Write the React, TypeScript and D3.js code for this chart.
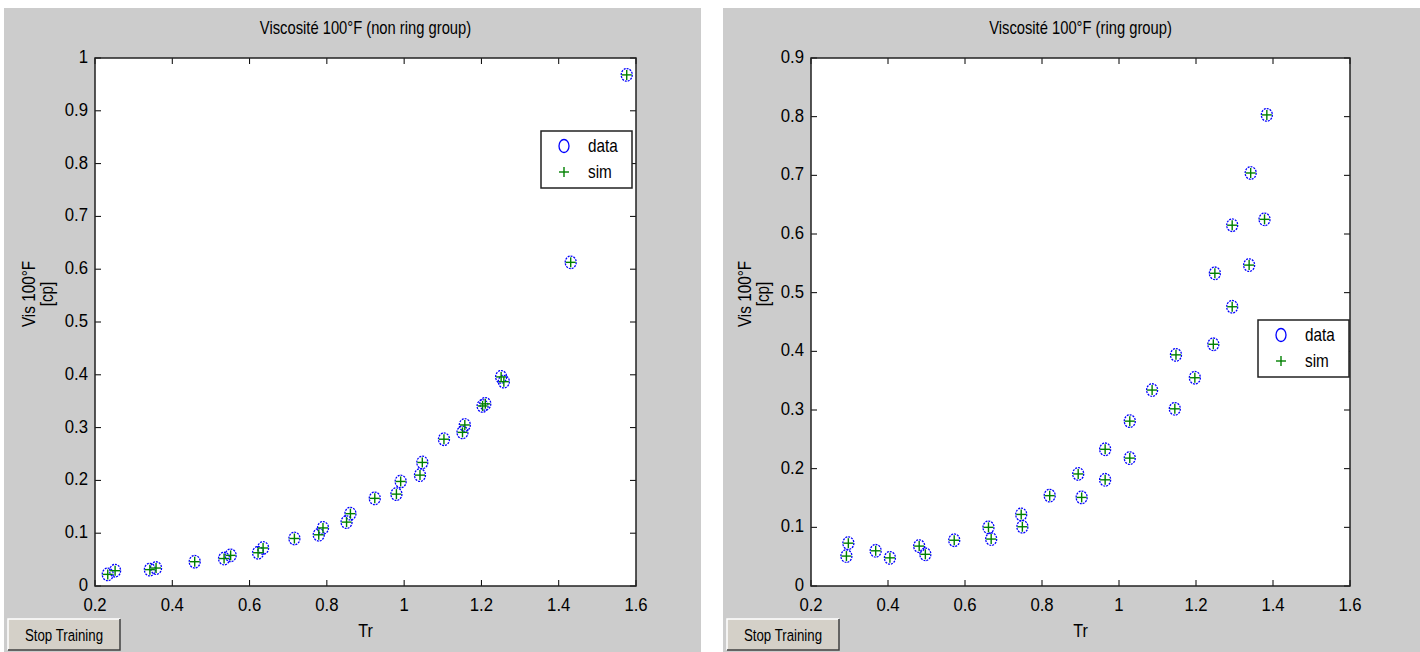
import React from "react";
import * as d3 from "d3";

// non ring group (left)
const leftTr = [0.233, 0.252, 0.342, 0.358, 0.458, 0.534, 0.551, 0.622, 0.635, 0.716, 0.779, 0.79, 0.851, 0.861, 0.924, 0.98, 0.991, 1.041, 1.047, 1.103, 1.151, 1.157, 1.203, 1.21, 1.251, 1.258, 1.431, 1.576];
const leftData = [0.022, 0.029, 0.031, 0.034, 0.046, 0.052, 0.058, 0.063, 0.072, 0.09, 0.097, 0.11, 0.121, 0.137, 0.166, 0.174, 0.198, 0.21, 0.234, 0.278, 0.291, 0.305, 0.341, 0.345, 0.396, 0.387, 0.613, 0.968];
const leftSim = [0.022, 0.029, 0.031, 0.034, 0.046, 0.052, 0.058, 0.063, 0.072, 0.09, 0.097, 0.11, 0.121, 0.137, 0.166, 0.174, 0.198, 0.21, 0.234, 0.278, 0.291, 0.305, 0.341, 0.345, 0.396, 0.387, 0.613, 0.968];

// ring group (right)
const rightTr = [0.292, 0.297, 0.368, 0.405, 0.481, 0.497, 0.572, 0.661, 0.668, 0.746, 0.749, 0.82, 0.894, 0.903, 0.964, 0.964, 1.028, 1.028, 1.086, 1.145, 1.148, 1.197, 1.245, 1.249, 1.294, 1.294, 1.338, 1.342, 1.378, 1.384];
const rightData = [0.051, 0.073, 0.06, 0.048, 0.068, 0.054, 0.078, 0.1, 0.08, 0.122, 0.101, 0.154, 0.191, 0.151, 0.233, 0.181, 0.281, 0.218, 0.334, 0.302, 0.394, 0.355, 0.412, 0.533, 0.476, 0.615, 0.547, 0.704, 0.625, 0.803];
const rightSim = [0.051, 0.073, 0.06, 0.048, 0.068, 0.054, 0.078, 0.1, 0.08, 0.122, 0.101, 0.154, 0.191, 0.151, 0.233, 0.181, 0.281, 0.218, 0.334, 0.302, 0.394, 0.355, 0.412, 0.533, 0.476, 0.615, 0.547, 0.704, 0.625, 0.803];

const xTicks = [0.2, 0.4, 0.6, 0.8, 1, 1.2, 1.4, 1.6];
const leftYTicks = [0, 0.1, 0.2, 0.3, 0.4, 0.5, 0.6, 0.7, 0.8, 0.9, 1];
const rightYTicks = [0, 0.1, 0.2, 0.3, 0.4, 0.5, 0.6, 0.7, 0.8, 0.9];
const legendLabels = ["data", "sim"];

const FONT = "'Liberation Sans', Arial, sans-serif";
const BG = "#cccccc";

const fmt = (v: number) => (Number.isInteger(v) ? String(v) : String(+v.toFixed(1)));

// narrow text, the original is a condensed helvetica
function SText(props: { x: number; y: number; size: number; sx?: number; anchor?: string; children: React.ReactNode }) {
  const { x, y, size, sx = 0.85, anchor = "start", children } = props;
  return (
    <text transform={`translate(${x},${y}) scale(${sx},1)`} textAnchor={anchor} fontSize={size} fill="#000">
      {children}
    </text>
  );
}

function Plus({ x, y, color }: { x: number; y: number; color: string }) {
  return (
    <g stroke={color} strokeWidth={1.4}>
      <line x1={x - 5} x2={x + 5} y1={y} y2={y} />
      <line x1={x} x2={x} y1={y - 5} y2={y + 5} />
    </g>
  );
}

function Panel(props: {
  x0: number;
  left: number;
  right: number;
  title: string;
  tr: number[];
  data: number[];
  sim: number[];
  yTicks: number[];
  legendX: number;
  legendY: number;
}) {
  const { x0, left, right, title, tr, data, sim, yTicks, legendX, legendY } = props;
  const top = 58;
  const bottom = 586;
  const x = d3.scaleLinear().domain([0.2, 1.6]).range([left, right]);
  const y = d3.scaleLinear().domain([0, d3.max(yTicks) as number]).range([bottom, top]);
  const tk = 6;
  const cx = (left + right) / 2;
  const cy = (top + bottom) / 2;

  return (
    <g fontFamily={FONT}>
      <rect x={x0} y={8} width={697} height={644} fill={BG} />
      <SText x={cx} y={34} size={18} sx={0.82} anchor="middle">{title}</SText>
      <rect x={left} y={top} width={right - left} height={bottom - top} fill="#fff" />

      {/* ticks */}
      <g stroke="#000" strokeWidth={1}>
        {xTicks.map(t => (
          <g key={"x" + t}>
            <line x1={x(t)} x2={x(t)} y1={bottom} y2={bottom - tk} />
            <line x1={x(t)} x2={x(t)} y1={top} y2={top + tk} />
          </g>
        ))}
        {yTicks.map(t => (
          <g key={"y" + t}>
            <line x1={left} x2={left + tk} y1={y(t)} y2={y(t)} />
            <line x1={right} x2={right - tk} y1={y(t)} y2={y(t)} />
          </g>
        ))}
      </g>
      <rect x={left} y={top} width={right - left} height={bottom - top} fill="none" stroke="#222" strokeWidth={1.5} />

      {xTicks.map(t => (
        <SText key={"xl" + t} x={x(t)} y={bottom + 25} size={19} sx={0.88} anchor="middle">{fmt(t)}</SText>
      ))}
      {yTicks.map(t => (
        <SText key={"yl" + t} x={left - 7} y={y(t) + 5} size={19} sx={0.88} anchor="end">{fmt(t)}</SText>
      ))}

      <SText x={cx} y={637} size={19} anchor="middle">Tr</SText>
      <g transform={`translate(${left - 60},${cy - 28}) rotate(-90)`}>
        <SText x={0} y={0} size={18} anchor="middle">Vis 100°F</SText>
        <SText x={0} y={18} size={18} anchor="middle">[cp]</SText>
      </g>

      {/* points */}
      {tr.map((t, i) => (
        <ellipse key={"d" + i} cx={x(t)} cy={y(data[i])} rx={5.5} ry={6.3} fill="none" stroke="#0000ff" strokeWidth={1.3} strokeDasharray="2 1" />
      ))}
      {tr.map((t, i) => (
        <Plus key={"s" + i} x={x(t)} y={y(sim[i])} color="#008000" />
      ))}

      {/* legend */}
      <rect x={legendX} y={legendY} width={91} height={57} fill="#fff" stroke="#222" strokeWidth={1.5} />
      <ellipse cx={legendX + 23} cy={legendY + 15} rx={5} ry={6.5} fill="none" stroke="#0000ff" strokeWidth={1.3} />
      <Plus x={legendX + 23} y={legendY + 41} color="#008000" />
      <SText x={legendX + 47} y={legendY + 21} size={18}>{legendLabels[0]}</SText>
      <SText x={legendX + 47} y={legendY + 47} size={18}>{legendLabels[1]}</SText>

      {/* button */}
      <rect x={x0 + 4} y={619} width={112} height={31} fill="#d4d0c8" />
      <path d={`M${x0 + 4},650 V619 H${x0 + 116}`} fill="none" stroke="#fff" strokeWidth={1.5} />
      <path d={`M${x0 + 4},650 H${x0 + 116} V619`} fill="none" stroke="#404040" strokeWidth={1.5} />
      <SText x={x0 + 60} y={641} size={17} sx={0.78} anchor="middle">Stop Training</SText>
    </g>
  );
}

export default function App() {
  return (
    <svg width={1420} height={652} style={{ position: "absolute", left: 0, top: 0, background: "#fff" }}>
      <Panel x0={4} left={95} right={636} title="Viscosité 100°F (non ring group)"
        tr={leftTr} data={leftData} sim={leftSim} yTicks={leftYTicks} legendX={541} legendY={131} />
      <Panel x0={723} left={811} right={1350} title="Viscosité 100°F (ring group)"
        tr={rightTr} data={rightData} sim={rightSim} yTicks={rightYTicks} legendX={1258} legendY={320} />
    </svg>
  );
}
